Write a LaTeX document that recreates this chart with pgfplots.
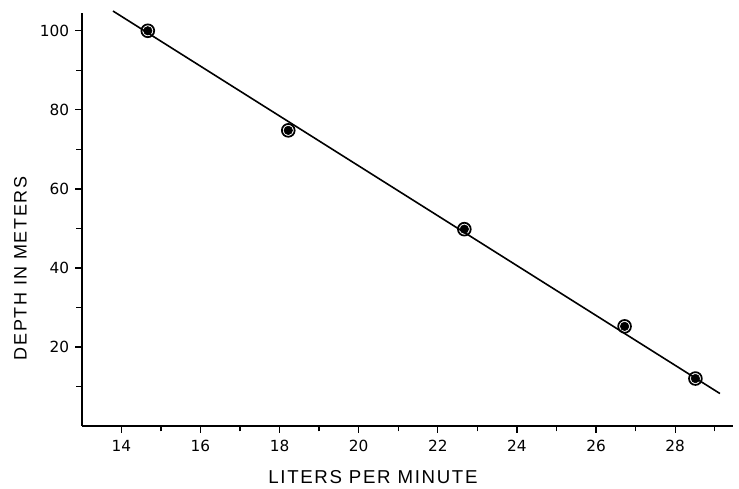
\documentclass[border=0pt]{standalone}
\usepackage{pgfplots}
\pgfplotsset{compat=1.18}
\usepackage{fontspec}
\setmainfont{Liberation Sans}
\newfontfamily\labfont[LetterSpace=9]{Liberation Sans}
\newfontfamily\tickfont{DejaVu Sans}
\begin{document}
\begin{tikzpicture}
\path[use as bounding box] (-61.3pt,-47.25pt) rectangle (493pt,319.5pt);
\begin{axis}[
  scale only axis,
  width=488.5pt, height=309.75pt,
  xmin=13, xmax=29.46, ymin=0, ymax=104.5,
  axis x line=bottom, axis y line=left,
  axis line style={-, line width=1.2pt},
  tick align=outside,
  xtick={14,16,...,28}, minor xtick={15,17,...,29},
  ytick={20,40,...,100}, minor ytick={10,30,...,90},
  major tick length=5pt, minor tick length=4pt,
  tick style={line width=1pt, black},
  /pgf/number format/assume math mode=true,
  ticklabel style={font=\tickfont\fontsize{11.5}{14}\selectfont},
  xticklabel style={yshift=-2pt},
  yticklabel style={xshift=-1pt},
  xlabel={LITERS PER MINUTE},
  ylabel={DEPTH IN METERS},
  xlabel style={at={(axis cs:20.36,0)}, anchor=center, yshift=-38.6pt, font=\labfont\fontsize{14}{16}\selectfont},
  ylabel style={at={(axis cs:13,39.9)}, anchor=center, yshift=46pt, font=\labfont\fontsize{13.5}{16}\selectfont},
  clip=false,
]
\addplot[black, line width=1.2pt] coordinates {(13.79,105.0) (29.13,8.2)};
\addplot[only marks, mark=o, mark size=4.8pt, mark options={line width=1.3pt, black, fill=white}] coordinates {
(14.67,100) (18.22,74.8) (22.67,49.8) (26.72,25.2) (28.51,12.0)};
\addplot[only marks, mark=*, mark size=3.2pt, mark options={black}] coordinates {
(14.67,100) (18.22,74.8) (22.67,49.8) (26.72,25.2) (28.51,12.0)};
\end{axis}
\end{tikzpicture}
\end{document}
